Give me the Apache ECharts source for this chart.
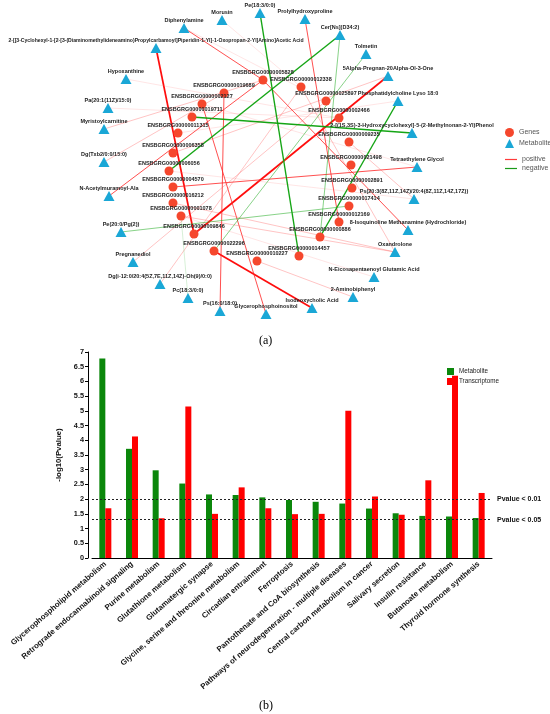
<!DOCTYPE html>
<html><head><meta charset="utf-8">
<script src="https://cdn.jsdelivr.net/npm/echarts@6/dist/echarts.min.js"></script>
<style>html,body{margin:0;padding:0;background:#fff}#c{width:550px;height:714px}</style>
</head><body><div id="c"></div>
<script>
// ---------- (a) network ----------
const genes = ['ENSBGRG00000005828','ENSBGRG00000012338','ENSBGRG00000025897','ENSBGRG00000002466','ENSBGRG00000009235','ENSBGRG00000021498','ENSBGRG00000002891','ENSBGRG00000017414','ENSBGRG00000012169','ENSBGRG00000000886','ENSBGRG00000014457','ENSBGRG00000010227','ENSBGRG00000022296','ENSBGRG00000009846','ENSBGRG00000001078','ENSBGRG00000016212','ENSBGRG00000004570','ENSBGRG00000006056','ENSBGRG00000006358','ENSBGRG00000011315','ENSBGRG00000019711','ENSBGRG00000002127','ENSBGRG00000019689'];
const geneLayoutX = [263,301,326,339,349,351,352,349,339,320,299,257,214,194,181,173,173,169,173,178,192,202,224];
const geneLayoutY = [80,87,101,118,142,165,188,206,222,237,256,261,251,234,216,203,187,171,153,133,117,104,93];

const metabolites = ['Pe(18:3/0:0)','Prolylhydroxyproline','Cer[Ns](D34:2)','Tolmetin','5Alpha-Pregnan-20Alpha-Ol-3-One','Phosphatidylcholine Lyso 18:0','2-[(1S,3S)-3-Hydroxycyclohexyl]-5-(2-Methylnonan-2-Yl)Phenol','Tetraethylene Glycol','Ps(20:3(8Z,11Z,14Z)/20:4(8Z,11Z,14Z,17Z))','8-Isoquinoline Methanamine (Hydrochloride)','Oxandrolone','N-Eicosapentaenoyl Glutamic Acid','2-Aminobiphenyl','Isodeoxycholic Acid','Glycerophosphoinositol','Ps(16:0/18:0)','Pc(18:3/0:0)','Dg(i-12:0/20:4(5Z,7E,11Z,14Z)-Oh(9)/0:0)','Pregnanediol','Pe(20:0/Pg(2))','N-Acetylmuramoyl-Ala','Dg(Txb2/0:0/15:0)','Myristoylcarnitine','Pa(20:1(11Z)/15:0)','Hypoxanthine','2-[[3-Cyclohexyl-1-[2-[3-(Diaminomethylideneamino)Propylcarbamoyl]Piperidin-1-Yl]-1-Oxopropan-2-Yl]Amino]Acetic Acid','Diphenylamine','Morusin'];
const metLayoutX = [260,305,340,366,388,398,412,417,414,408,395,374,353,312,266,220,188,160,133,121,109,104,104,108,126,156,184,222];
const metLayoutY = [13,19,35,54,76,101,133,167,199,230,252,277,297,308,314,311,298,284,262,232,196,162,129,108,79,48,28,20];

// correlation edges: [gene id suffix, metabolite prefix, kind]  R/r/p/pf = positive, G/g/gf = negative
const edges = [
  ['9846','2-[[3','R'],['9846','5Alpha','R'],['22296','Isodeoxy','R'],
  ['2127','Glycerophospho','r'],['19689','Ps(16','r'],['5828','Diphenylamine','r'],
  ['5828','N-Acetyl','r'],['12169','Prolyl','r'],['5828','8-Iso','r'],['4570','Tetraethylene','r'],
  ['1078','Oxandrolone','p'],['10227','2-Amino','p'],['19689','Dg(Txb2','p'],['5828','Myristoyl','p'],
  ['25897','Pregnanediol','p'],['12338','Dg(i','p'],['16212','Oxandrolone','p'],['1078','N-Eicosa','pf'],
  ['9235','Ps(20:3','p'],['6358','5Alpha','p'],['11315','Phosphatidyl','pf'],['2466','Hypoxanthine','pf'],
  ['2466','Pa(20','pf'],['12338','Morusin','pf'],['25897','Diphenylamine','pf'],['12338','Oxandrolone','p'],
  ['6056','Ps(20:3','pf'],['2127','Tetraethylene','pf'],
  ['14457','Pe(18:3','G'],['6056','Cer','G'],['19711','2-[(1S','G'],['886','Phosphatidyl','G'],
  ['17414','Pe(20','g'],['22296','Tolmetin','g'],['886','Cer','g'],['1078','Pc(18','gf']
];

// ---------- (b) enrichment bars ----------
const pathways = ['Glycerophospholipid metabolism','Retrograde endocannabinoid signaling','Purine metabolism','Glutathione metabolism','Glutamatergic synapse','Glycine, serine and threonine metabolism','Circadian entrainment','Ferroptosis','Pantothenate and CoA biosynthesis','Pathways of neurodegeneration - multiple diseases','Central carbon metabolism in cancer','Salivary secretion','Insulin resistance','Butanoate metabolism','Thyroid hormone synthesis'];
const metaboliteVals = [6.78,3.71,2.98,2.53,2.16,2.14,2.06,1.97,1.91,1.85,1.68,1.52,1.43,1.41,1.36];
const transcriptomeVals = [1.69,4.13,1.35,5.15,1.50,2.40,1.69,1.49,1.50,5.00,2.09,1.47,2.64,6.19,2.21];
const thresholds = [2, 1.30103];
const thresholdLabels = ['Pvalue < 0.01','Pvalue < 0.05'];

const edgeStyles = {
  R:{color:'#ff0000',width:1.7,opacity:0.95},
  r:{color:'#ff2424',width:1.0,opacity:0.8},
  p:{color:'#ff5a5a',width:0.8,opacity:0.45},
  pf:{color:'#ff7a7a',width:0.7,opacity:0.28},
  G:{color:'#08a008',width:1.4,opacity:0.95},
  g:{color:'#2aae2a',width:0.8,opacity:0.7},
  gf:{color:'#5cc05c',width:0.7,opacity:0.35}
};

const FONT = 'Liberation Sans, Arial, sans-serif';
const nodes = [];
genes.forEach((g,i)=>nodes.push({name:g,value:[geneLayoutX[i],geneLayoutY[i]],category:0,symbol:'circle',symbolSize:9}));
metabolites.forEach((m,i)=>nodes.push({name:m,value:[metLayoutX[i],metLayoutY[i]],category:1,symbol:'triangle',symbolSize:[11,10],
  label: m.length > 80 ? {fontSize:5.1} : undefined}));
const links = edges.map(e=>({
  source: genes.find(g=>g.endsWith(e[0])),
  target: metabolites.find(m=>m.startsWith(e[1])),
  lineStyle: edgeStyles[e[2]]
}));

const chart = echarts.init(document.getElementById('c'), null, {renderer:'canvas'});
chart.setOption({
  animation:false,
  backgroundColor:'#fff',
  title:[
    {text:'(a)',left:254,top:330,textStyle:{fontSize:12,fontWeight:'normal',fontFamily:'Liberation Serif, serif',color:'#000'}},
    {text:'(b)',left:254,top:695,textStyle:{fontSize:12,fontWeight:'normal',fontFamily:'Liberation Serif, serif',color:'#000'}}
  ],
  legend:[
    {data:[{name:'Genes',icon:'circle'},{name:'Metabolites',icon:'triangle'}],left:500,top:123,orient:'vertical',
     itemWidth:9,itemHeight:9,itemGap:2,textStyle:{fontSize:7,color:'#555',fontFamily:FONT},selectedMode:false},
    {data:[{name:'positive',icon:'rect'},{name:'negative',icon:'rect'}],left:500,top:151,orient:'vertical',
     itemWidth:12,itemHeight:1.2,itemGap:2,textStyle:{fontSize:7,color:'#555',fontFamily:FONT},selectedMode:false},
    {data:[{name:'Metabolite',icon:'rect'},{name:'Transcriptome',icon:'rect'}],left:442,top:363,orient:'vertical',
     itemWidth:7,itemHeight:7,itemGap:3,textStyle:{fontSize:6.3,color:'#222',fontFamily:FONT},selectedMode:false}
  ],
  grid:[
    {left:0,top:0,width:550,height:330,outerBoundsMode:'none'},
    {left:92,top:352,width:400,height:206,outerBoundsMode:'none'}
  ],
  xAxis:[
    {gridIndex:0,type:'value',min:0,max:550,show:false},
    {gridIndex:1,type:'category',data:pathways,boundaryGap:true,
     axisLine:{lineStyle:{color:'#000',width:1}},axisTick:{show:false},
     axisLabel:{rotate:41,interval:0,fontSize:7.8,fontWeight:'bold',color:'#111',fontFamily:FONT,margin:5}}
  ],
  yAxis:[
    {gridIndex:0,type:'value',min:0,max:330,inverse:true,show:false},
    {gridIndex:1,type:'value',min:0,max:7,interval:0.5,offset:4,
     name:'-log10(Pvalue)',nameLocation:'middle',nameGap:18,
     nameTextStyle:{fontSize:7.8,fontWeight:'bold',color:'#111',fontFamily:FONT},
     axisLine:{show:true,lineStyle:{color:'#000',width:1}},
     axisTick:{show:true,length:3,lineStyle:{color:'#000'}},
     splitLine:{show:false},
     axisLabel:{fontSize:7.3,fontWeight:'bold',color:'#111',fontFamily:FONT,margin:4}}
  ],
  series:[
    {type:'graph',coordinateSystem:'cartesian2d',xAxisIndex:0,yAxisIndex:0,layout:'none',
     categories:[{name:'Genes',symbol:'circle',symbolSize:9,itemStyle:{color:'#f5472d'}},
                 {name:'Metabolites',symbol:'triangle',symbolSize:[11,10],itemStyle:{color:'#1aa7d6'}}],
     data:nodes,links:links,
     label:{show:true,position:'top',distance:0,fontSize:5.5,fontWeight:'bold',color:'#222',fontFamily:FONT},
     lineStyle:{curveness:0},
     emphasis:{disabled:true},silent:true,z:2},
    {type:'line',name:'positive',xAxisIndex:0,yAxisIndex:0,data:[],itemStyle:{color:'#ff3b3b'},lineStyle:{color:'#ff3b3b'}},
    {type:'line',name:'negative',xAxisIndex:0,yAxisIndex:0,data:[],itemStyle:{color:'#1a9a1a'},lineStyle:{color:'#1a9a1a'}},
    {type:'bar',name:'Metabolite',xAxisIndex:1,yAxisIndex:1,data:metaboliteVals,barWidth:6,barGap:'0%',
     itemStyle:{color:'#0b870b'},
     markLine:{silent:true,symbol:'none',
       lineStyle:{type:[2,2],color:'#222',width:1},
       label:{position:'end',fontSize:7,fontWeight:'bold',color:'#111',fontFamily:FONT,distance:5},
       data:thresholds.map((t,i)=>({yAxis:t,label:{formatter:thresholdLabels[i]}}))}},
    {type:'bar',name:'Transcriptome',xAxisIndex:1,yAxisIndex:1,data:transcriptomeVals,barWidth:6,barGap:'0%',
     itemStyle:{color:'#ff0000'}}
  ]
});
</script></body></html>
